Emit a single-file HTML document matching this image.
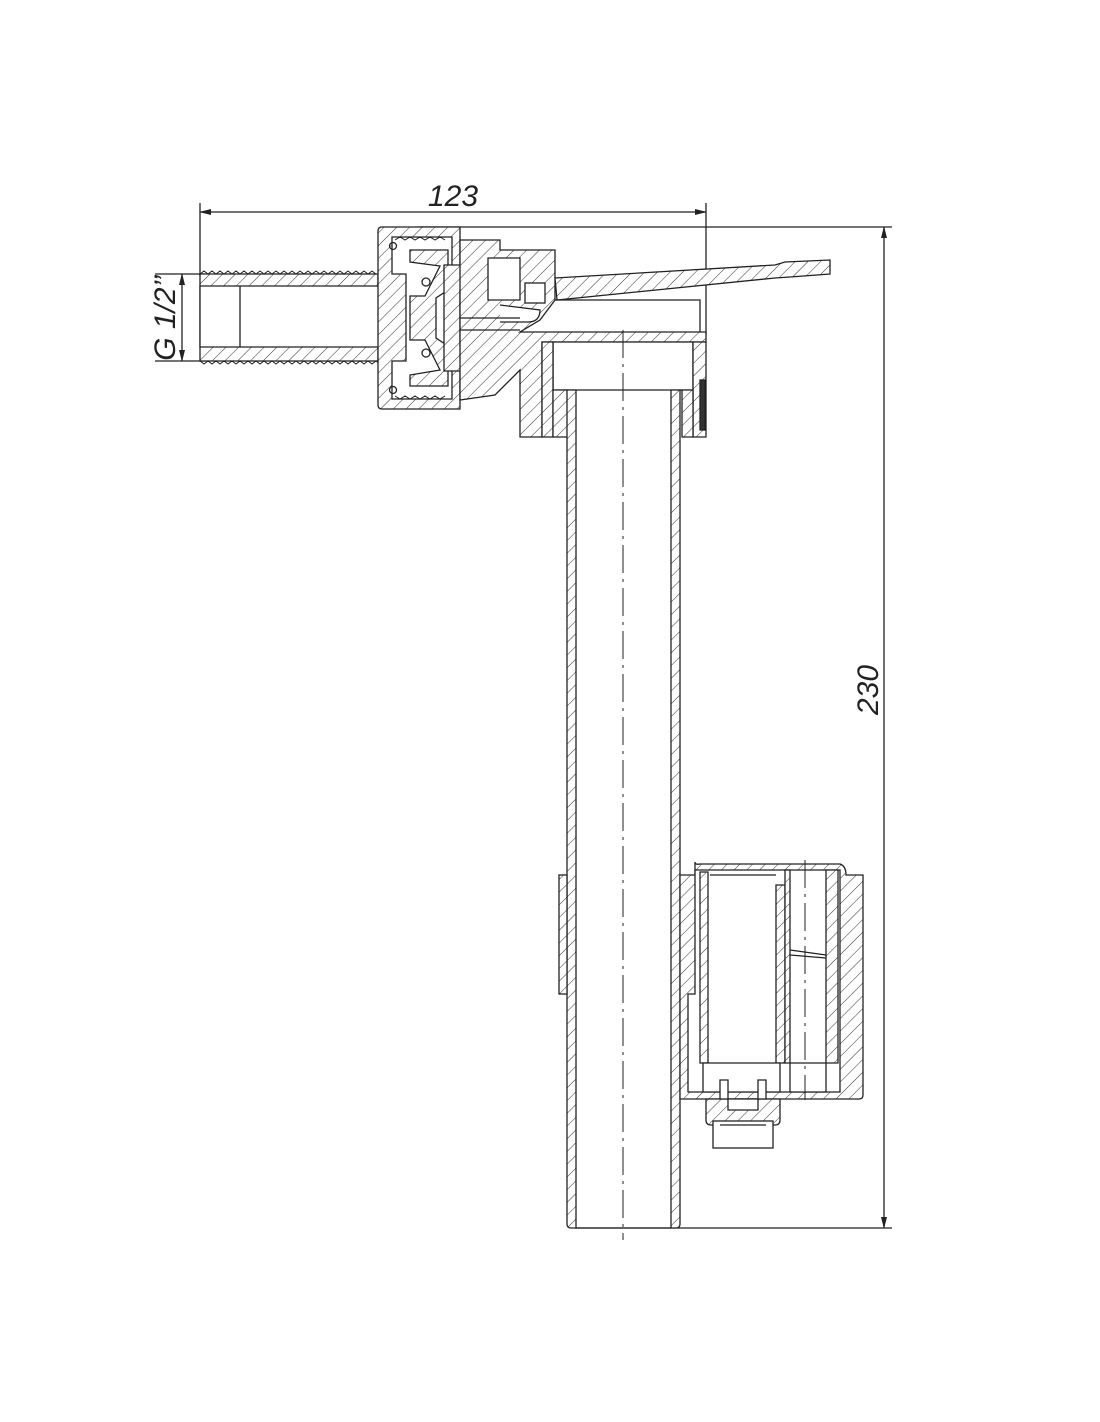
<!DOCTYPE html>
<html><head><meta charset="utf-8"><style>
html,body{margin:0;padding:0;background:#fff}
svg{display:block}
text{font-family:"Liberation Sans",sans-serif;font-style:italic;fill:#222}
</style></head><body>
<svg width="1100" height="1422" viewBox="0 0 1100 1422" xmlns="http://www.w3.org/2000/svg">
<defs>
<pattern id="h" width="9" height="9" patternUnits="userSpaceOnUse" patternTransform="rotate(45)">
<rect width="9" height="9" fill="#fff"/><line x1="0" y1="0" x2="0" y2="9" stroke="#333" stroke-width="1"/>
</pattern>
<marker id="a" markerWidth="12" markerHeight="8" refX="11" refY="4" orient="auto-start-reverse" markerUnits="userSpaceOnUse">
<path d="M0,1 L12,4 L0,7 z" fill="#222"/></marker>
</defs>
<g stroke="#222" stroke-width="1.3" fill="none">
<line x1="200" y1="203" x2="200" y2="276"/>
<line x1="706" y1="203" x2="706" y2="335"/>
<line x1="200" y1="212" x2="706" y2="212" marker-start="url(#a)" marker-end="url(#a)"/>
<line x1="155" y1="274" x2="205" y2="274"/>
<line x1="155" y1="361" x2="205" y2="361"/>
<line x1="182" y1="274" x2="182" y2="361" marker-start="url(#a)" marker-end="url(#a)"/>
<line x1="418" y1="227" x2="892" y2="227"/>
<line x1="575" y1="1228" x2="892" y2="1228"/>
<line x1="884" y1="227" x2="884" y2="1228" marker-start="url(#a)" marker-end="url(#a)"/>

<path d="M200,274 L378,274 L378,361 L200,361 Z" fill="url(#h)"/>
<path d="M200,286 L406,286 L406,347 L200,347 Z" fill="#fff"/>
<line x1="240" y1="286" x2="240" y2="347"/>
<path d="M200,274 l4,-3 l4,3 l4,-3 l4,3 l4,-3 l4,3 l4,-3 l4,3 l4,-3 l4,3 l4,-3 l4,3 l4,-3 l4,3 l4,-3 l4,3 l4,-3 l4,3 l4,-3 l4,3 l4,-3 l4,3 l4,-3 l4,3 l4,-3 l4,3 l4,-3 l4,3 l4,-3 l4,3 l4,-3 l4,3 l4,-3 l4,3 l4,-3 l4,3 l4,-3 l4,3 l4,-3 l4,3 l4,-3 l4,3 l4,-3 l4,3" stroke-width="1"/>
<path d="M200,361 l4,3 l4,-3 l4,3 l4,-3 l4,3 l4,-3 l4,3 l4,-3 l4,3 l4,-3 l4,3 l4,-3 l4,3 l4,-3 l4,3 l4,-3 l4,3 l4,-3 l4,3 l4,-3 l4,3 l4,-3 l4,3 l4,-3 l4,3 l4,-3 l4,3 l4,-3 l4,3 l4,-3 l4,3 l4,-3 l4,3 l4,-3 l4,3 l4,-3 l4,3 l4,-3 l4,3 l4,-3 l4,3 l4,-3 l4,3 l4,-3 l4,3" stroke-width="1"/>

<path d="M382,227 L460,227 L460,409 L382,409 Q378,409 378,405 L378,231 Q378,227 382,227 Z" fill="url(#h)"/>
<path d="M392,237 L452,237 L452,399 L392,399 L392,361 L406,361 L406,274 L392,274 Z" fill="#fff"/>
<path d="M395,240 l5,-3 l5,3 l5,-3 l5,3 l5,-3 l5,3 l5,-3 l5,3 l5,-3 l5,3" stroke-width="1"/>
<path d="M395,396 l5,3 l5,-3 l5,3 l5,-3 l5,3 l5,-3 l5,3 l5,-3 l5,3 l5,-3" stroke-width="1"/>
<circle cx="393" cy="246" r="3.5"/><circle cx="393" cy="390" r="3.5"/>
<circle cx="426" cy="282" r="4"/><circle cx="426" cy="353" r="4"/>
<path d="M410,250 L448,250 L448,290 L436,298 L436,338 L448,346 L448,386 L410,386 L410,375 L440,370 L425,340 L410,340 L410,296 L425,296 L440,266 L410,262 Z" fill="url(#h)"/>
<path d="M444,265 L470,265 L470,290 L460,290 L460,346 L470,346 L470,371 L444,371 Z" fill="url(#h)"/>
<path d="M470,276 h12 q6,0 6,6 v4 q0,6 -6,6 h-12"/>
<path d="M470,344 h12 q6,0 6,6 v4 q0,6 -6,6 h-12"/>
<path d="M460,240 L500,240 L500,250 L555,250 L555,300 L540,320 L520,332 L706,332 L706,342 L542,342 L542,437 L520,437 L520,370 L495,395 L460,400 Z" fill="url(#h)"/>
<path d="M488,258 L520,258 L520,300 L488,300 Z" fill="#fff"/>
<rect x="525" y="283" width="20" height="20" fill="#fff"/>
<path d="M500,305 L540,310 Q540,322 528,322 L500,322" fill="#fff"/>
<line x1="460" y1="318" x2="520" y2="318"/>
<line x1="460" y1="330" x2="520" y2="330"/>
<path d="M555,278 L775,265 L785,262 L830,260 L830,274 L790,277 L775,278 L557,300 Z" fill="url(#h)"/>
<path d="M555,300 L700,300 L700,332"/>

<path d="M553,342 L693,342 L693,390 L553,390 Z" fill="#fff"/>
<path d="M542,342 L553,342 L553,437 L542,437 Z" fill="url(#h)"/>
<path d="M693,342 L706,342 L706,437 L693,437 Z" fill="url(#h)"/>
<path d="M553,390 L568,390 L568,437 L553,437 Z" fill="url(#h)"/>
<path d="M682,390 L693,390 L693,437 L682,437 Z" fill="url(#h)"/>
<rect x="700" y="380" width="5" height="50" fill="#333"/>

<path d="M567,390 L576,390 L576,1228 L571,1228 Q567,1228 567,1224 Z" fill="url(#h)"/>
<path d="M671,390 L680,390 L680,1224 Q680,1228 676,1228 L671,1228 Z" fill="url(#h)"/>
<line x1="576" y1="1228" x2="671" y2="1228"/>
<rect x="559" y="875" width="8" height="119" fill="url(#h)"/>
<line x1="623" y1="330" x2="623" y2="1240" stroke-dasharray="28,6,3,6" stroke-width="1"/>

<path d="M680,875 L695,875 L695,862 Q695,865 700,864 L840,864 Q846,866 846,875 L863,875 L863,1095 Q863,1099 859,1099 L680,1099 Z" fill="url(#h)"/>
<path d="M695,870 L840,870 L840,1092 L688,1092 L688,994 L695,994 Z" fill="#fff"/>
<path d="M700,872 L708,872 L708,1063 L700,1063 Z" fill="url(#h)"/>
<path d="M776,885 L785,885 L785,1063 L776,1063 Z" fill="url(#h)"/>
<path d="M785,870 L790,870 L790,1063 L785,1063 Z" fill="url(#h)"/>
<path d="M826,870 L838,870 L838,1063 L826,1063 Z" fill="url(#h)"/>
<path d="M703,1063 L780,1063 L780,1092 L703,1092 Z" fill="#fff"/>
<path d="M790,1063 L826,1063 L826,1092 L790,1092 Z" fill="#fff"/>
<line x1="710" y1="875" x2="776" y2="875"/>
<line x1="790" y1="950" x2="826" y2="955"/>
<line x1="790" y1="955" x2="826" y2="958"/>
<line x1="805" y1="860" x2="805" y2="1100" stroke-dasharray="28,6,3,6" stroke-width="1"/>
<path d="M706,1099 L780,1099 L780,1120 Q780,1125 775,1125 L711,1125 Q706,1125 706,1120 Z" fill="url(#h)"/>
<path d="M720,1080 L728,1080 L728,1110 L758,1110 L758,1080 L766,1080 L766,1099 L720,1099 Z" fill="#fff"/>
<rect x="713" y="1121" width="60" height="27" fill="#fff"/>
<line x1="720" y1="1125" x2="766" y2="1125"/>
</g>
<text x="453" y="206" font-size="30" text-anchor="middle">123</text>
<text transform="translate(175,318) rotate(-90)" font-size="30" text-anchor="middle">G 1/2’’</text>
<text transform="translate(878,690) rotate(-90)" font-size="30" text-anchor="middle">230</text>
</svg>
</body></html>
